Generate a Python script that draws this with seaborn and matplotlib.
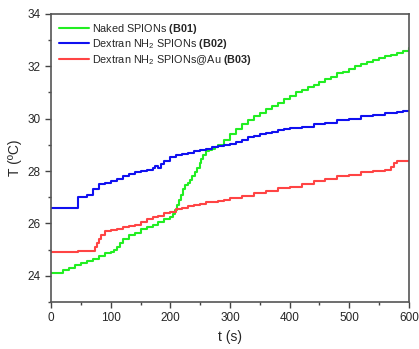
import numpy as np
import pandas as pd
import matplotlib
matplotlib.use('Agg')
import matplotlib.pyplot as plt
import seaborn as sns
from matplotlib.ticker import MultipleLocator

sns.set_style("ticks")
plt.rcParams['font.family'] = ['Liberation Sans', 'DejaVu Sans']
plt.rcParams['mathtext.fontset'] = 'custom'
plt.rcParams['mathtext.rm'] = 'Liberation Sans'
plt.rcParams['mathtext.bf'] = 'Liberation Sans:bold'

# Naked SPIONs (B01)
t_b01 = [0, 10, 20, 30, 40, 50, 60, 70, 80, 90, 100, 105, 110, 115, 120, 130, 140, 150, 160, 170,
         180, 190, 200, 205, 208, 211, 214, 218, 221, 225, 229, 233, 237, 241, 245, 249, 252, 255,
         260, 265, 270, 275, 280, 290, 300, 310, 320, 330, 340, 350, 360, 370, 380, 390, 400, 410,
         420, 430, 440, 450, 460, 470, 480, 490, 500, 510, 520, 530, 540, 550, 560, 570, 580, 590,
         600]
T_b01 = [24.1, 24.1, 24.2, 24.3, 24.4, 24.5, 24.55, 24.65, 24.75, 24.85, 24.9, 25.0, 25.1, 25.25,
         25.4, 25.55, 25.65, 25.8, 25.85, 25.95, 26.05, 26.15, 26.25, 26.35, 26.5, 26.7, 26.9,
         27.1, 27.3, 27.45, 27.55, 27.65, 27.8, 27.95, 28.1, 28.3, 28.45, 28.6, 28.75, 28.8, 28.85,
         28.9, 29.0, 29.2, 29.4, 29.6, 29.8, 29.95, 30.1, 30.2, 30.35, 30.5, 30.6, 30.75, 30.85,
         31.0, 31.1, 31.2, 31.3, 31.4, 31.5, 31.6, 31.75, 31.8, 31.9, 32.0, 32.1, 32.15, 32.25,
         32.3, 32.4, 32.45, 32.5, 32.6, 32.7]

# Dextran NH2 SPIONs (B02)
t_b02 = [0, 40, 45, 60, 70, 80, 90, 100, 110, 120, 130, 140, 150, 160, 170, 175, 180, 185, 190,
         200, 210, 220, 230, 240, 250, 260, 270, 280, 290, 300, 310, 320, 330, 340, 350, 360, 370,
         380, 390, 400, 420, 440, 460, 480, 500, 520, 540, 560, 580, 590, 600]
T_b02 = [26.6, 26.6, 27.0, 27.1, 27.3, 27.5, 27.55, 27.6, 27.7, 27.8, 27.9, 27.95, 28.0, 28.05,
         28.1, 28.2, 28.1, 28.25, 28.4, 28.55, 28.6, 28.65, 28.7, 28.75, 28.8, 28.85, 28.9, 28.95,
         29.0, 29.05, 29.1, 29.2, 29.3, 29.35, 29.4, 29.45, 29.5, 29.55, 29.6, 29.65, 29.7, 29.8,
         29.85, 29.95, 30.0, 30.1, 30.15, 30.2, 30.25, 30.3, 30.3]

# Dextran NH2 SPIONs@Au (B03)
t_b03 = [0, 40, 45, 70, 74, 77, 80, 84, 90, 100, 110, 120, 130, 140, 150, 160, 170, 180, 190,
         200, 210, 220, 230, 240, 250, 260, 280, 290, 300, 320, 340, 360, 380, 400, 420, 440, 460,
         480, 500, 520, 540, 560, 570, 575, 580, 600]
T_b03 = [24.9, 24.9, 24.95, 24.95, 25.1, 25.25, 25.4, 25.55, 25.7, 25.75, 25.8, 25.85, 25.9,
         25.95, 26.05, 26.15, 26.25, 26.3, 26.4, 26.45, 26.55, 26.6, 26.65, 26.7, 26.75, 26.8,
         26.85, 26.9, 26.95, 27.05, 27.15, 27.25, 27.35, 27.4, 27.5, 27.6, 27.7, 27.8, 27.85,
         27.95, 28.0, 28.05, 28.15, 28.3, 28.4, 28.4]

labels = [r'Naked SPIONs $\mathbf{(B01)}$',
          r'Dextran NH$_2$ SPIONs $\mathbf{(B02)}$',
          r'Dextran NH$_2$ SPIONs@Au $\mathbf{(B03)}$']
colors = ['#22ee22', '#1010f0', '#ff4444']

df = pd.concat([
    pd.DataFrame({'t': t_b01, 'T': T_b01, 'muestra': labels[0]}),
    pd.DataFrame({'t': t_b02, 'T': T_b02, 'muestra': labels[1]}),
    pd.DataFrame({'t': t_b03, 'T': T_b03, 'muestra': labels[2]}),
])

fig = plt.figure(figsize=(4.19, 3.49), dpi=100)
ax = fig.add_axes([0.122, 0.135, 0.854, 0.825])

sns.lineplot(data=df, x='t', y='T', hue='muestra', palette=dict(zip(labels, colors)),
             drawstyle='steps-post', linewidth=1.5, ax=ax)

ax.set_xlim(0, 600)
ax.set_ylim(23, 34)
ax.xaxis.set_major_locator(MultipleLocator(100))
ax.xaxis.set_minor_locator(MultipleLocator(50))
ax.yaxis.set_major_locator(MultipleLocator(2))
ax.yaxis.set_minor_locator(MultipleLocator(1))
ax.tick_params(which='major', length=4, width=1, labelsize=8.5, color='#444444')
ax.tick_params(which='minor', length=2.5, width=1, color='#444444')
for s in ax.spines.values():
    s.set_color('#555555')
    s.set_linewidth(1.2)
ax.set_xlabel('t (s)', fontsize=10)
ax.set_ylabel('T (ºC)', fontsize=10)

leg = ax.legend(loc='upper left', frameon=False, fontsize=7.8, handlelength=2.8,
                borderaxespad=0.3, labelspacing=0.15, handletextpad=0.25)

fig.savefig('out.png', dpi=100)
